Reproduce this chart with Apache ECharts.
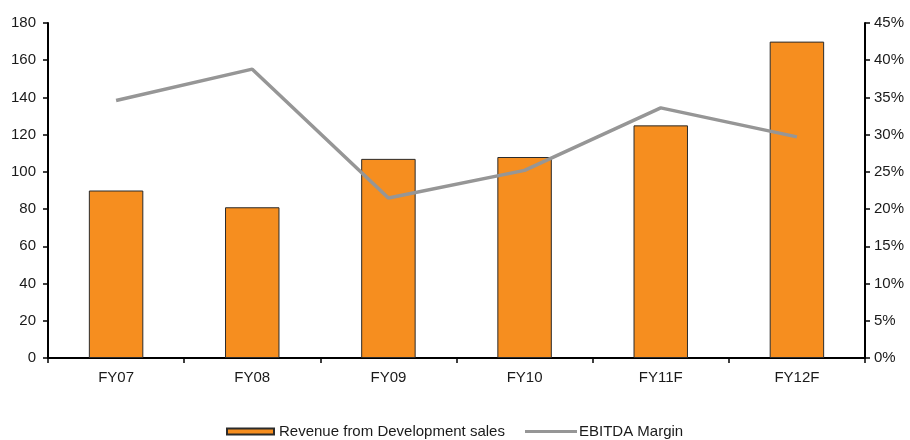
<!DOCTYPE html>
<html>
<head>
<meta charset="utf-8">
<script src="https://cdn.jsdelivr.net/npm/echarts@6/dist/echarts.min.js"></script>
<style>
html,body{margin:0;padding:0;background:#fff;}
#chart{width:910px;height:440px;}
</style>
</head>
<body>
<div id="chart"></div>
<script>
var categories = ['FY07', 'FY08', 'FY09', 'FY10', 'FY11F', 'FY12F'];
var revenue = [90, 81, 107, 108, 125, 170];
var ebitdaMargin = [34.6, 38.8, 21.5, 25.2, 33.6, 29.7];
var revenueName = 'Revenue from Development sales';
var marginName = 'EBITDA Margin';

var chart = echarts.init(document.getElementById('chart'), null, {renderer: 'canvas'});
var font = 'Liberation Sans, Arial, sans-serif';
var textColor = '#1a1a1a';
chart.setOption({
  animation: false,
  backgroundColor: '#ffffff',
  textStyle: {fontFamily: font},
  grid: {left: 48, right: 45, top: 23, bottom: 82, containLabel: false},
  legend: [{
    data: [{name: revenueName, icon: 'rect'}],
    left: 221, top: 419,
    itemWidth: 47, itemHeight: 6,
    textStyle: {fontFamily: font, fontSize: 15, color: textColor}
  }, {
    data: [{name: marginName, icon: 'rect', itemStyle: {color: '#969696', borderWidth: 0}}],
    left: 520, top: 419,
    itemWidth: 52, itemHeight: 3,
    textStyle: {fontFamily: font, fontSize: 15, color: textColor, padding: [0, 0, 0, -3]}
  }],
  xAxis: {
    type: 'category',
    data: categories,
    axisLine: {lineStyle: {color: '#000', width: 2}},
    axisTick: {show: true, length: 5, lineStyle: {color: '#000', width: 1.5}},
    axisLabel: {fontFamily: font, fontSize: 15, color: textColor, margin: 12},
    splitLine: {show: false}
  },
  yAxis: [{
    type: 'value', position: 'left',
    min: 0, max: 180, interval: 20,
    axisLine: {show: true, lineStyle: {color: '#000', width: 2}},
    axisTick: {show: true, length: 5, lineStyle: {color: '#000', width: 1.5}},
    axisLabel: {fontFamily: font, fontSize: 15, color: textColor, margin: 12},
    splitLine: {show: false}
  }, {
    type: 'value', position: 'right',
    min: 0, max: 45, interval: 5,
    axisLine: {show: true, lineStyle: {color: '#000', width: 2}},
    axisTick: {show: true, length: 5, lineStyle: {color: '#000', width: 1.5}},
    axisLabel: {fontFamily: font, fontSize: 15, color: textColor, margin: 9, formatter: '{value}%'},
    splitLine: {show: false}
  }],
  series: [{
    name: revenueName,
    type: 'bar',
    data: revenue,
    barWidth: '40%',
    itemStyle: {color: '#F68E1F', borderColor: '#2b2b2b', borderWidth: 1}
  }, {
    name: marginName,
    type: 'line',
    yAxisIndex: 1,
    data: ebitdaMargin,
    symbol: 'none',
    lineStyle: {color: '#969696', width: 3.5},
    itemStyle: {color: '#969696'}
  }]
});
</script>
</body>
</html>
